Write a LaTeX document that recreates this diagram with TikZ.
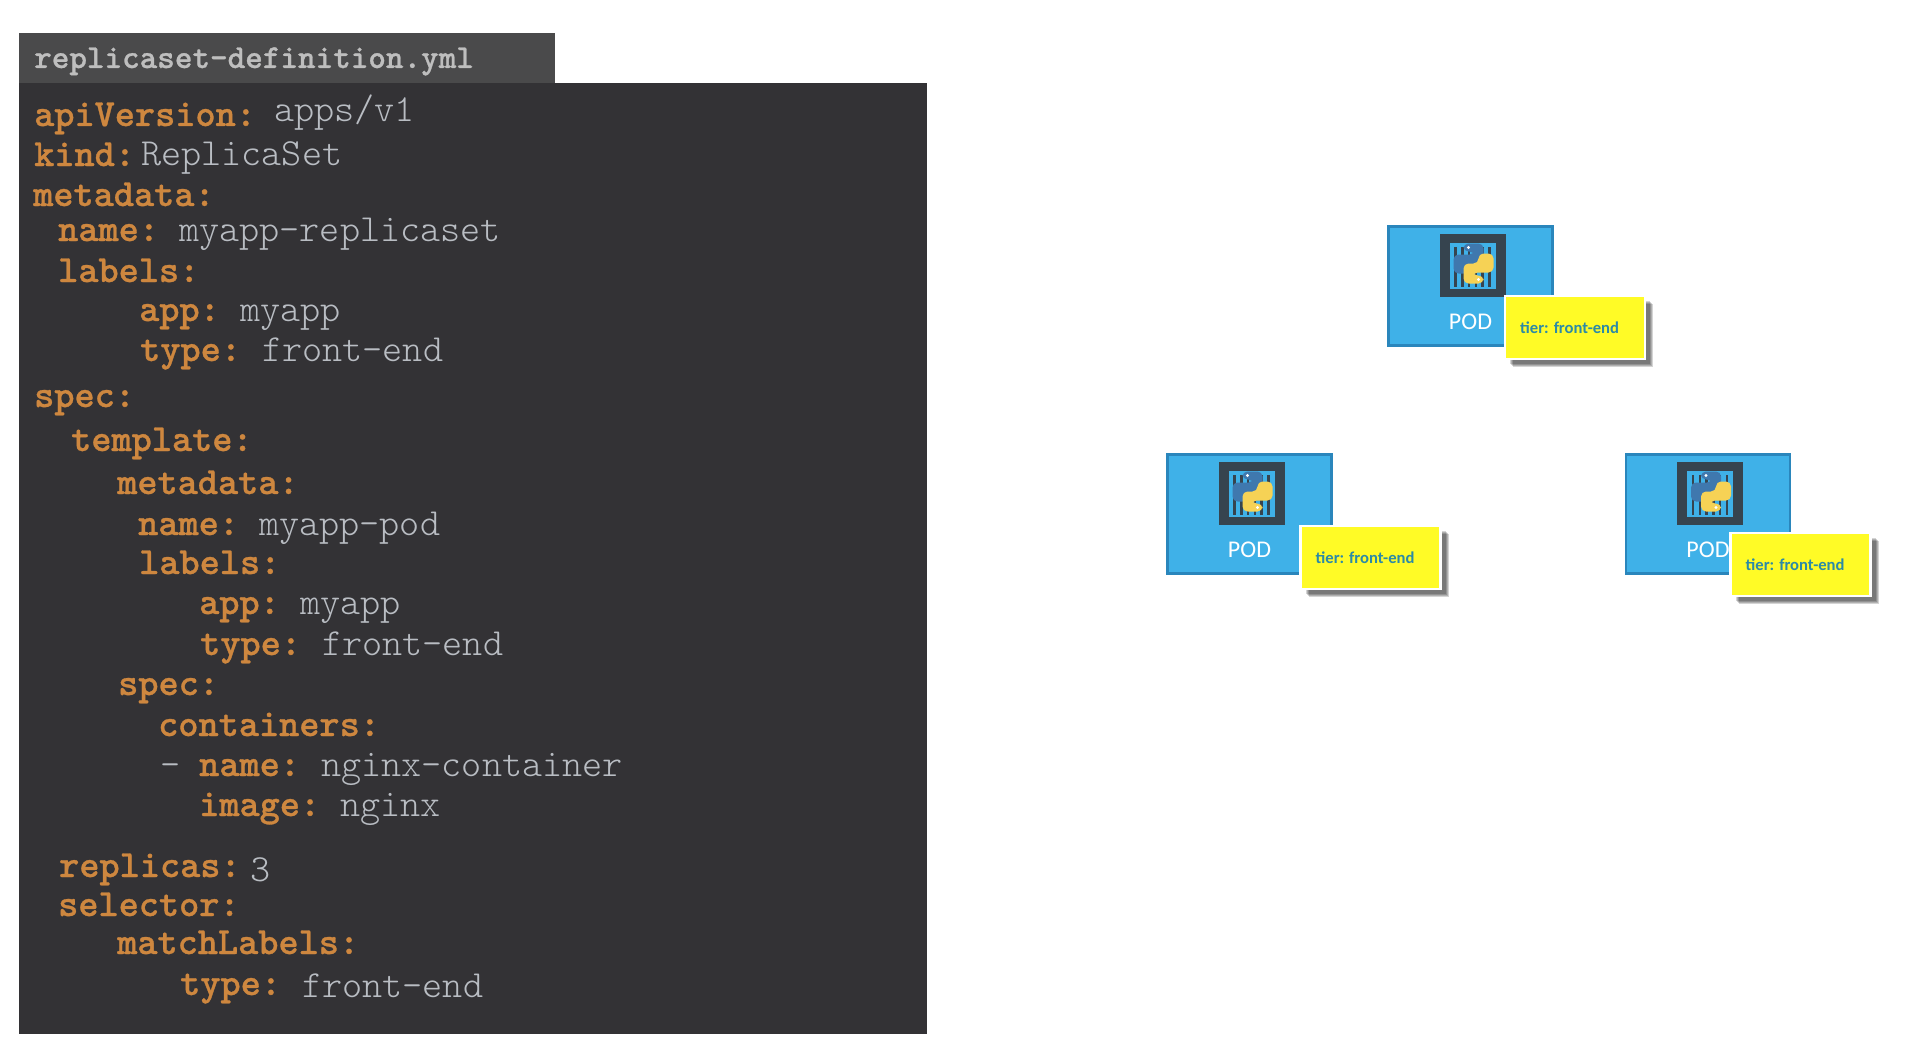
\documentclass[tikz,border=0pt]{standalone}
\usepackage{fontspec}
\newfontfamily\podfont{Carlito}
\newfontfamily\keyfont[FakeBold=0.8]{lmmonolt10-bold.otf}
\usetikzlibrary{positioning, shadows}

\definecolor{panelgray}{HTML}{333235}
\definecolor{tabgray}{HTML}{4A4A4B}
\definecolor{keyorange}{HTML}{CE873F}
\definecolor{valgray}{HTML}{B9BDC3}
\definecolor{titlegray}{HTML}{BEBEBE}
\definecolor{podblue}{HTML}{3FB1E8}
\definecolor{podedge}{HTML}{2A86BC}
\definecolor{icondark}{HTML}{36444F}
\definecolor{pyblue}{HTML}{3F78AE}
\definecolor{pyyellow}{HTML}{F6D255}
\definecolor{tieryellow}{HTML}{FFFB26}
\definecolor{tiertext}{HTML}{2C8AA6}

\begin{document}
\begin{tikzpicture}[
    x=1pt, y=-1pt,
    ymlkey/.style={
        anchor=base west, inner sep=0pt, text=keyorange,
        font=\fontsize{38.4}{40}\selectfont\keyfont
    },
    ymlval/.style={
        anchor=base west, inner sep=0pt, text=valgray,
        font=\fontsize{38.3}{40}\ttfamily\fontseries{l}\selectfont
    },
    podbox/.style={
        draw=podedge, fill=podblue, line width=2.5pt, inner sep=0pt,
        minimum width=164pt, minimum height=119pt
    },
    podtext/.style={
        anchor=base, inner sep=0pt, text=white,
        font=\fontsize{24}{26}\selectfont\podfont
    },
    softshadow/.style={
        general shadow={shadow xshift=#1, shadow yshift=-#1, fill=black, opacity=0.17}
    },
    tierbox/.style={
        draw=white, fill=tieryellow, line width=2.5pt, inner sep=0pt,
        minimum width=140pt, minimum height=63pt,
        softshadow=8pt, softshadow=7pt, softshadow=6pt, softshadow=5pt
    },
    tiertag/.style={
        anchor=base west, inner sep=0pt, text=tiertext,
        font=\fontsize{16.6}{19}\selectfont\podfont\bfseries
    },
    icon/.pic={
        \fill[icondark] (-33,-31.5) rectangle (33,31.5);
        \fill[podblue] (-23,-23) rectangle (23,23);
        \foreach \barx in {-17,-10,-3.5,3.5,10,17}
            \fill[icondark] (\barx-1.4,-19) rectangle (\barx+1.4,21);
        \begin{scope}[shift={(1,-2)}]
            \fill[pyblue, rounded corners=5pt] (-10,-20) -- (10,-20) -- (10,0) -- (-5,0)
                -- (-5,10) -- (-20,10) -- (-20,-9) -- (1,-9) -- (1,-12) -- (-10,-12) -- cycle;
            \fill[pyyellow, rounded corners=5pt] (10,20) -- (-10,20) -- (-10,0) -- (5,0)
                -- (5,-10) -- (20,-10) -- (20,9) -- (-1,9) -- (-1,12) -- (10,12) -- cycle;
            \fill[white] (-5,-16) circle (1.6);
            \fill[white] (5,16) circle (1.6);
        \end{scope}
    }
]

\useasboundingbox (0,0) rectangle (1932,1038);

% yaml panel
\fill[panelgray] (18.5,83) rectangle (927,1034);
\fill[tabgray] (18.5,33) rectangle (555,83);
\node[anchor=base west, inner sep=0pt, text=titlegray,
    font=\fontsize{33.5}{36}\selectfont\keyfont] (title) at (34,68) {replicaset-definition.yml};

\foreach \keyx/\keyy/\keytxt [count=\i] in {
    34/126/apiVersion, 34/166/kind, 33/206/metadata, 58/241/name, 58/282/labels,
    139/321/app, 140/361/type, 34/407/spec, 71/451/template, 117/494/metadata,
    138/535/name, 139/574/labels, 199/614/app, 200/655/type, 118/695/spec,
    158/736/containers, 199/776/name, 199/816/image, 59/877/replicas,
    58/916/selector, 117/954/matchLabels, 180/995/type}
    \node[ymlkey] (key\i) at (\keyx,\keyy) {\keytxt:};

\foreach \valx/\valy/\valtxt [count=\i] in {
    274/122/{apps/v1}, 141/165/ReplicaSet, 179/241/myapp-replicaset, 240/321/myapp,
    262/361/front-end, 259/535/myapp-pod, 300/614/myapp, 322/655/front-end,
    321/776/nginx-container, 340/816/nginx, 250/881/3, 302/997/front-end}
    \node[ymlval] (val\i) at (\valx,\valy) {\valtxt};
\node[ymlval] (dash) at (160,776) {-};

% pods
\foreach \name/\podx/\pody/\tierx/\tiery in {
    top/1470.5/286/1575/327.5, left/1249.5/514/1370.5/557.5, right/1708/514/1800.5/564.5} {
    \node[podbox] (pod\name) at (\podx,\pody) {};
    \pic at (\podx+2,\pody-20.5) {icon};
    \node[podtext] (text\name) at (\podx,\pody+43.5) {POD};
    \node[tierbox] (tier\name) at (\tierx,\tiery) {};
    \node[tiertag] (tag\name) at (\tierx-55,\tiery+5.5) {tier: front-end};
}

\end{tikzpicture}
\end{document}
